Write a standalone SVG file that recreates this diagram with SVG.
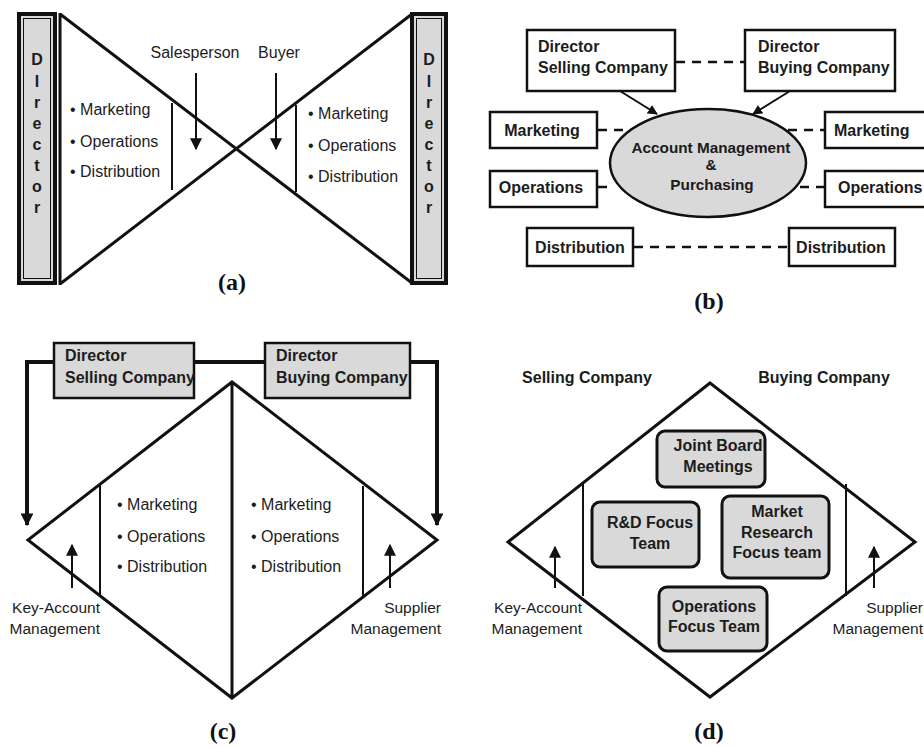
<svg xmlns="http://www.w3.org/2000/svg" width="924" height="747" viewBox="0 0 924 747">
  <defs>
    <marker id="ahSmall" viewBox="0 0 10 10" refX="9" refY="5" markerWidth="5" markerHeight="5" orient="auto" markerUnits="strokeWidth">
      <path d="M0,0 L10,5 L0,10 z" fill="#111"/>
    </marker>
    <marker id="ahThin" viewBox="0 0 10 10" refX="9" refY="5" markerWidth="6" markerHeight="6" orient="auto" markerUnits="strokeWidth">
      <path d="M0,0 L10,5 L0,10 z" fill="#111"/>
    </marker>
    <marker id="ahBig" viewBox="0 0 10 10" refX="9" refY="5" markerWidth="4" markerHeight="3.2" orient="auto" markerUnits="strokeWidth">
      <path d="M0,0 L10,5 L0,10 z" fill="#111"/>
    </marker>
  </defs>
  <style>
    text { font-family: "Liberation Sans", Arial, sans-serif; fill: #1c1c1c; }
    .reg { font-size: 16px; }
    .bold { font-size: 16px; font-weight: bold; }
    .sm { font-size: 15.5px; }
    .cap { font-family: "Liberation Serif", "Times New Roman", serif; font-size: 24px; font-weight: bold; fill: #111; text-anchor: middle; }
    .mid { text-anchor: middle; }
    .end { text-anchor: end; }
    .line { stroke: #111; stroke-width: 3; fill: none; }
    .thin { stroke: #111; stroke-width: 2; fill: none; }
    .box { fill: #fff; stroke: #111; stroke-width: 2.5; }
    .gbox { fill: #d9d9d9; stroke: #111; stroke-width: 2.5; }
    .rbox { fill: #d9d9d9; stroke: #111; stroke-width: 3; }
    .dash { stroke: #111; stroke-width: 2.5; stroke-dasharray: 9 7; fill: none; }
    .conn { stroke: #111; stroke-width: 4; fill: none; }
  </style>
  <rect width="924" height="747" fill="#fff"/>

  <!-- ===== Panel (a) ===== -->
  <g id="a-director-left">
    <rect x="19" y="14" width="36" height="269" fill="#d9d9d9" stroke="#111" stroke-width="4"/>
    <rect x="23.5" y="18.5" width="27" height="260" fill="none" stroke="#111" stroke-width="1"/>
    <g class="bold mid">
      <text x="37" y="65">D</text><text x="37" y="87">I</text><text x="37" y="108">r</text>
      <text x="37" y="129">e</text><text x="37" y="150">c</text><text x="37" y="171">t</text>
      <text x="37" y="192">o</text><text x="37" y="213">r</text>
    </g>
  </g>
  <g id="a-director-right">
    <rect x="412" y="14" width="34" height="269" fill="#d9d9d9" stroke="#111" stroke-width="4"/>
    <rect x="416.5" y="18.5" width="25" height="260" fill="none" stroke="#111" stroke-width="1"/>
    <g class="bold mid">
      <text x="429" y="65">D</text><text x="429" y="87">I</text><text x="429" y="108">r</text>
      <text x="429" y="129">e</text><text x="429" y="150">c</text><text x="429" y="171">t</text>
      <text x="429" y="192">o</text><text x="429" y="213">r</text>
    </g>
  </g>
  <g id="a-hourglass">
    <path class="line" d="M60,13 L60,285 M60,14 L412,283 M60,284 L412,14"/>
    <path class="thin" d="M172,103 L172,190 M296,105 L296,192"/>
  </g>
  <g id="a-left-functions" class="reg">
    <text x="70" y="115">• Marketing</text>
    <text x="70" y="147">• Operations</text>
    <text x="70" y="177">• Distribution</text>
  </g>
  <g id="a-right-functions" class="reg">
    <text x="308" y="119">• Marketing</text>
    <text x="308" y="151">• Operations</text>
    <text x="308" y="182">• Distribution</text>
  </g>
  <g id="a-salesperson">
    <text class="reg mid" x="195" y="58">Salesperson</text>
  </g>
  <g id="a-buyer">
    <text class="reg mid" x="279" y="58">Buyer</text>
  </g>
  <g id="a-connectors">
    <line class="thin" x1="196" y1="73" x2="196" y2="149" marker-end="url(#ahThin)"/>
    <line class="thin" x1="276" y1="73" x2="276" y2="149" marker-end="url(#ahThin)"/>
  </g>
  <text class="cap" x="232" y="290">(a)</text>

  <!-- ===== Panel (b) ===== -->
  <g id="b-connectors">
    <line class="dash" x1="676" y1="62" x2="745" y2="62"/>
    <line class="dash" x1="598" y1="130" x2="633" y2="130"/>
    <line class="dash" x1="788" y1="130" x2="825" y2="130"/>
    <line class="dash" x1="598" y1="187" x2="614" y2="187"/>
    <line class="dash" x1="800" y1="187" x2="825" y2="187"/>
    <line class="dash" x1="634" y1="247" x2="789" y2="247"/>
    <line class="thin" x1="620" y1="91" x2="657" y2="114" marker-end="url(#ahSmall)"/>
    <line class="thin" x1="790" y1="91" x2="753" y2="114" marker-end="url(#ahSmall)"/>
  </g>
  <g id="b-account-management">
    <ellipse cx="708" cy="163" rx="98" ry="54" fill="#d9d9d9" stroke="#111" stroke-width="2.5"/>
    <text class="bold mid" style="font-size:15.3px" x="711" y="153">Account Management</text>
    <text class="bold mid" style="font-size:15.3px" x="711" y="170">&amp;</text>
    <text class="bold mid" style="font-size:15.3px" x="712" y="190">Purchasing</text>
  </g>
  <g id="b-director-selling">
    <rect class="box" x="527" y="30" width="148" height="61"/>
    <text class="bold" x="538" y="52">Director</text>
    <text class="bold" x="538" y="73">Selling Company</text>
  </g>
  <g id="b-director-buying">
    <rect class="box" x="745" y="30" width="150" height="61"/>
    <text class="bold" x="758" y="52">Director</text>
    <text class="bold" x="758" y="73">Buying Company</text>
  </g>
  <g id="b-marketing-left">
    <rect class="box" x="490" y="112" width="107" height="36"/>
    <text class="bold mid" x="542" y="136">Marketing</text>
  </g>
  <g id="b-marketing-right">
    <rect class="box" x="825" y="112" width="102" height="36"/>
    <text class="bold" x="834" y="136">Marketing</text>
  </g>
  <g id="b-operations-left">
    <rect class="box" x="490" y="171" width="107" height="36"/>
    <text class="bold mid" x="541" y="193">Operations</text>
  </g>
  <g id="b-operations-right">
    <rect class="box" x="825" y="171" width="102" height="36"/>
    <text class="bold" x="838" y="193">Operations</text>
  </g>
  <g id="b-distribution-left">
    <rect class="box" x="527" y="228" width="106" height="38"/>
    <text class="bold mid" x="580" y="253">Distribution</text>
  </g>
  <g id="b-distribution-right">
    <rect class="box" x="789" y="228" width="106" height="38"/>
    <text class="bold mid" x="841" y="253">Distribution</text>
  </g>
  <text class="cap" x="709" y="309">(b)</text>

  <!-- ===== Panel (c) ===== -->
  <g id="c-connectors">
    <path class="conn" d="M54,362 L27,362 L27,525" marker-end="url(#ahBig)"/>
    <path class="conn" d="M194,362 L265,362"/>
    <path class="conn" d="M410,362 L437,362 L437,525" marker-end="url(#ahBig)"/>
    <line class="thin" x1="72" y1="588" x2="72" y2="545" marker-end="url(#ahThin)"/>
    <line class="thin" x1="390" y1="588" x2="390" y2="545" marker-end="url(#ahThin)"/>
  </g>
  <g id="c-diamond">
    <path class="line" d="M232,382 L437,540 L232,698 L28,540 Z M232,382 L232,698"/>
    <path class="thin" d="M100,485 L100,596 M363,486 L363,596"/>
  </g>
  <g id="c-director-selling">
    <rect class="gbox" x="54" y="343" width="140" height="55"/>
    <text class="bold" x="65" y="361">Director</text>
    <text class="bold" x="65" y="383">Selling Company</text>
  </g>
  <g id="c-director-buying">
    <rect class="gbox" x="265" y="343" width="145" height="55"/>
    <text class="bold" x="276" y="361">Director</text>
    <text class="bold" x="276" y="383">Buying Company</text>
  </g>
  <g id="c-left-functions" class="reg">
    <text x="117" y="510">• Marketing</text>
    <text x="117" y="542">• Operations</text>
    <text x="117" y="572">• Distribution</text>
  </g>
  <g id="c-right-functions" class="reg">
    <text x="251" y="510">• Marketing</text>
    <text x="251" y="542">• Operations</text>
    <text x="251" y="572">• Distribution</text>
  </g>
  <g id="c-key-account" class="sm end">
    <text x="100" y="613">Key-Account</text>
    <text x="100" y="634">Management</text>
  </g>
  <g id="c-supplier" class="sm end">
    <text x="441" y="613">Supplier</text>
    <text x="441" y="634">Management</text>
  </g>
  <text class="cap" x="223" y="739">(c)</text>

  <!-- ===== Panel (d) ===== -->
  <g id="d-headings" class="bold mid">
    <text x="587" y="383">Selling Company</text>
    <text x="824" y="383">Buying Company</text>
  </g>
  <g id="d-diamond">
    <path class="line" d="M710,383 L915,542 L710,697 L508,542 Z"/>
    <path class="thin" d="M583,484 L583,596 M846,484 L846,596"/>
  </g>
  <g id="d-connectors">
    <line class="thin" x1="555" y1="588" x2="555" y2="547" marker-end="url(#ahThin)"/>
    <line class="thin" x1="874" y1="588" x2="874" y2="547" marker-end="url(#ahThin)"/>
  </g>
  <g id="d-joint-board">
    <rect class="rbox" x="657" y="431" width="108" height="56" rx="8"/>
    <text class="bold mid" x="718" y="451">Joint Board</text>
    <text class="bold mid" x="718" y="472">Meetings</text>
  </g>
  <g id="d-rd-focus">
    <rect class="rbox" x="592" y="502" width="107" height="65" rx="8"/>
    <text class="bold mid" x="650" y="528">R&amp;D Focus</text>
    <text class="bold mid" x="650" y="549">Team</text>
  </g>
  <g id="d-market-research">
    <rect class="rbox" x="722" y="496" width="107" height="82" rx="8"/>
    <text class="bold mid" x="777" y="517">Market</text>
    <text class="bold mid" x="777" y="538">Research</text>
    <text class="bold mid" x="777" y="558">Focus team</text>
  </g>
  <g id="d-operations-focus">
    <rect class="rbox" x="659" y="587" width="108" height="64" rx="8"/>
    <text class="bold mid" x="714" y="612">Operations</text>
    <text class="bold mid" x="714" y="632">Focus Team</text>
  </g>
  <g id="d-key-account" class="sm end">
    <text x="582" y="613">Key-Account</text>
    <text x="582" y="634">Management</text>
  </g>
  <g id="d-supplier" class="sm end">
    <text x="923" y="613">Supplier</text>
    <text x="923" y="634">Management</text>
  </g>
  <text class="cap" x="709" y="739">(d)</text>
</svg>
